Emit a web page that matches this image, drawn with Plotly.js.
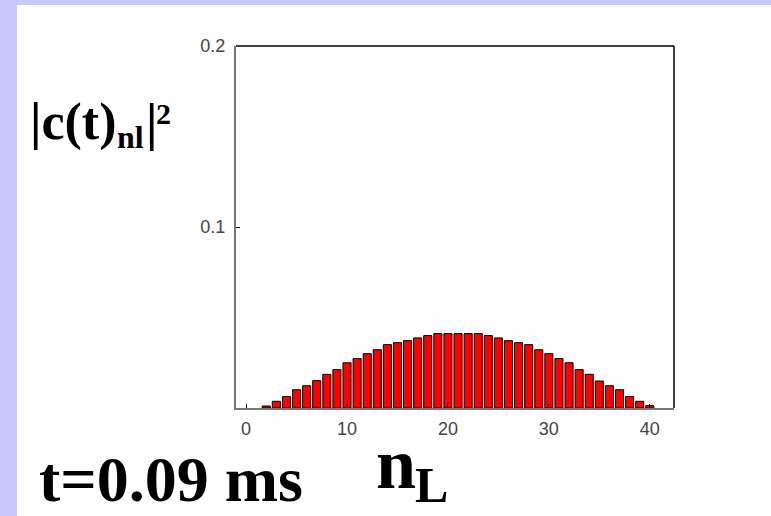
<!DOCTYPE html>
<html>
<head>
<meta charset="utf-8">
<script src="https://cdn.plot.ly/plotly-3.0.1.min.js"></script>
<style>html,body{margin:0;padding:0;background:#fff;}#chart{width:771px;height:516px;}</style>
</head>
<body>
<div id="chart"></div>
<script>
// Data
var nValues = [2,3,4,5,6,7,8,9,10,11,12,13,14,15,16,17,18,19,20,21,22,23,24,25,26,27,28,29,30,31,32,33,34,35,36,37,38,39,40];
var probValues = [0.0011,0.0037,0.0063,0.0101,0.0123,0.0151,0.0186,0.0212,0.0250,0.0273,0.0300,0.0322,0.0350,0.0361,0.0372,0.0387,0.0400,0.0411,0.0411,0.0411,0.0411,0.0411,0.0400,0.0387,0.0372,0.0361,0.0350,0.0322,0.0300,0.0273,0.0250,0.0212,0.0186,0.0149,0.0123,0.0101,0.0063,0.0037,0.0013];
var xTickVals = [0,10,20,30,40];
var yTickVals = [0.1,0.2];
var yTickText = ['0.1','0.2'];

var L = 236, R = 674, T = 46, B = 408, W = 771, H = 516;
function px(x){ return (x - L) / (R - L); }
function py(y){ return (B - y) / (B - T); }

var serif = 'Liberation Serif, Times New Roman, serif';
var tickFont = {family: 'Liberation Sans, Arial, sans-serif', size: 18, color: '#444', weight: 300};

var trace = {
  type: 'bar',
  x: nValues,
  y: probValues,
  width: 0.8,
  marker: {color: '#ff0000', line: {color: '#000000', width: 1}},
  hoverinfo: 'x+y'
};

var layout = {
  width: W, height: H,
  margin: {l: L, r: W - R, t: T, b: H - B, pad: 0},
  paper_bgcolor: '#c8c8ff',
  plot_bgcolor: 'rgba(0,0,0,0)',
  showlegend: false,
  xaxis: {
    range: [-1, 42.4],
    tickvals: xTickVals,
    ticks: 'inside', ticklen: 4, tickcolor: '#000', tickwidth: 1,
    showline: true, linecolor: '#777', linewidth: 2,
    showgrid: false, zeroline: false,
    tickfont: tickFont,
    ticklabelstandoff: 3
  },
  yaxis: {
    range: [0, 0.2],
    tickvals: yTickVals, ticktext: yTickText,
    ticks: 'inside', ticklen: 4, tickcolor: '#000', tickwidth: 1,
    showline: true, linecolor: '#777', linewidth: 2,
    showgrid: false, zeroline: false,
    tickfont: tickFont,
    ticklabelstandoff: 5
  },
  shapes: [
    {type: 'rect', xref: 'paper', yref: 'paper', layer: 'below',
     x0: px(17), x1: px(W + 10), y0: py(H + 10), y1: py(5),
     fillcolor: '#ffffff', line: {width: 0}},
    {type: 'line', xref: 'paper', yref: 'paper', x0: 0, x1: 1, y0: 1, y1: 1,
     line: {color: '#000', width: 1.5}},
    {type: 'line', xref: 'paper', yref: 'paper', x0: 1, x1: 1, y0: 0, y1: 1,
     line: {color: '#000', width: 1.5}}
  ],
  annotations: [
    {text: '|c(t)', xref: 'paper', yref: 'paper', x: px(28), y: py(122), xanchor: 'left', yanchor: 'middle',
     showarrow: false, font: {family: serif, size: 52, color: '#000', weight: 'bold'}},
    {text: 'nl', xref: 'paper', yref: 'paper', x: px(115), y: py(137), xanchor: 'left', yanchor: 'middle',
     showarrow: false, font: {family: serif, size: 32, color: '#000', weight: 'bold'}},
    {text: '|', xref: 'paper', yref: 'paper', x: px(144), y: py(122), xanchor: 'left', yanchor: 'middle',
     showarrow: false, font: {family: serif, size: 52, color: '#000', weight: 'bold'}},
    {text: '2', xref: 'paper', yref: 'paper', x: px(154), y: py(114), xanchor: 'left', yanchor: 'middle',
     showarrow: false, font: {family: serif, size: 30, color: '#000', weight: 'bold'}},
    {text: 't=0.09 ms', xref: 'paper', yref: 'paper', x: px(37), y: py(479), xanchor: 'left', yanchor: 'middle',
     showarrow: false, font: {family: serif, size: 64, color: '#000', weight: 'bold'}},
    {text: 'n', xref: 'paper', yref: 'paper', x: px(374), y: py(464), xanchor: 'left', yanchor: 'middle',
     showarrow: false, font: {family: serif, size: 72, color: '#000', weight: 'bold'}},
    {text: 'L', xref: 'paper', yref: 'paper', x: px(413), y: py(485), xanchor: 'left', yanchor: 'middle',
     showarrow: false, font: {family: serif, size: 50, color: '#000', weight: 'bold'}}
  ]
};

Plotly.newPlot('chart', [trace], layout, {displayModeBar: false, staticPlot: true});
</script>
</body>
</html>
